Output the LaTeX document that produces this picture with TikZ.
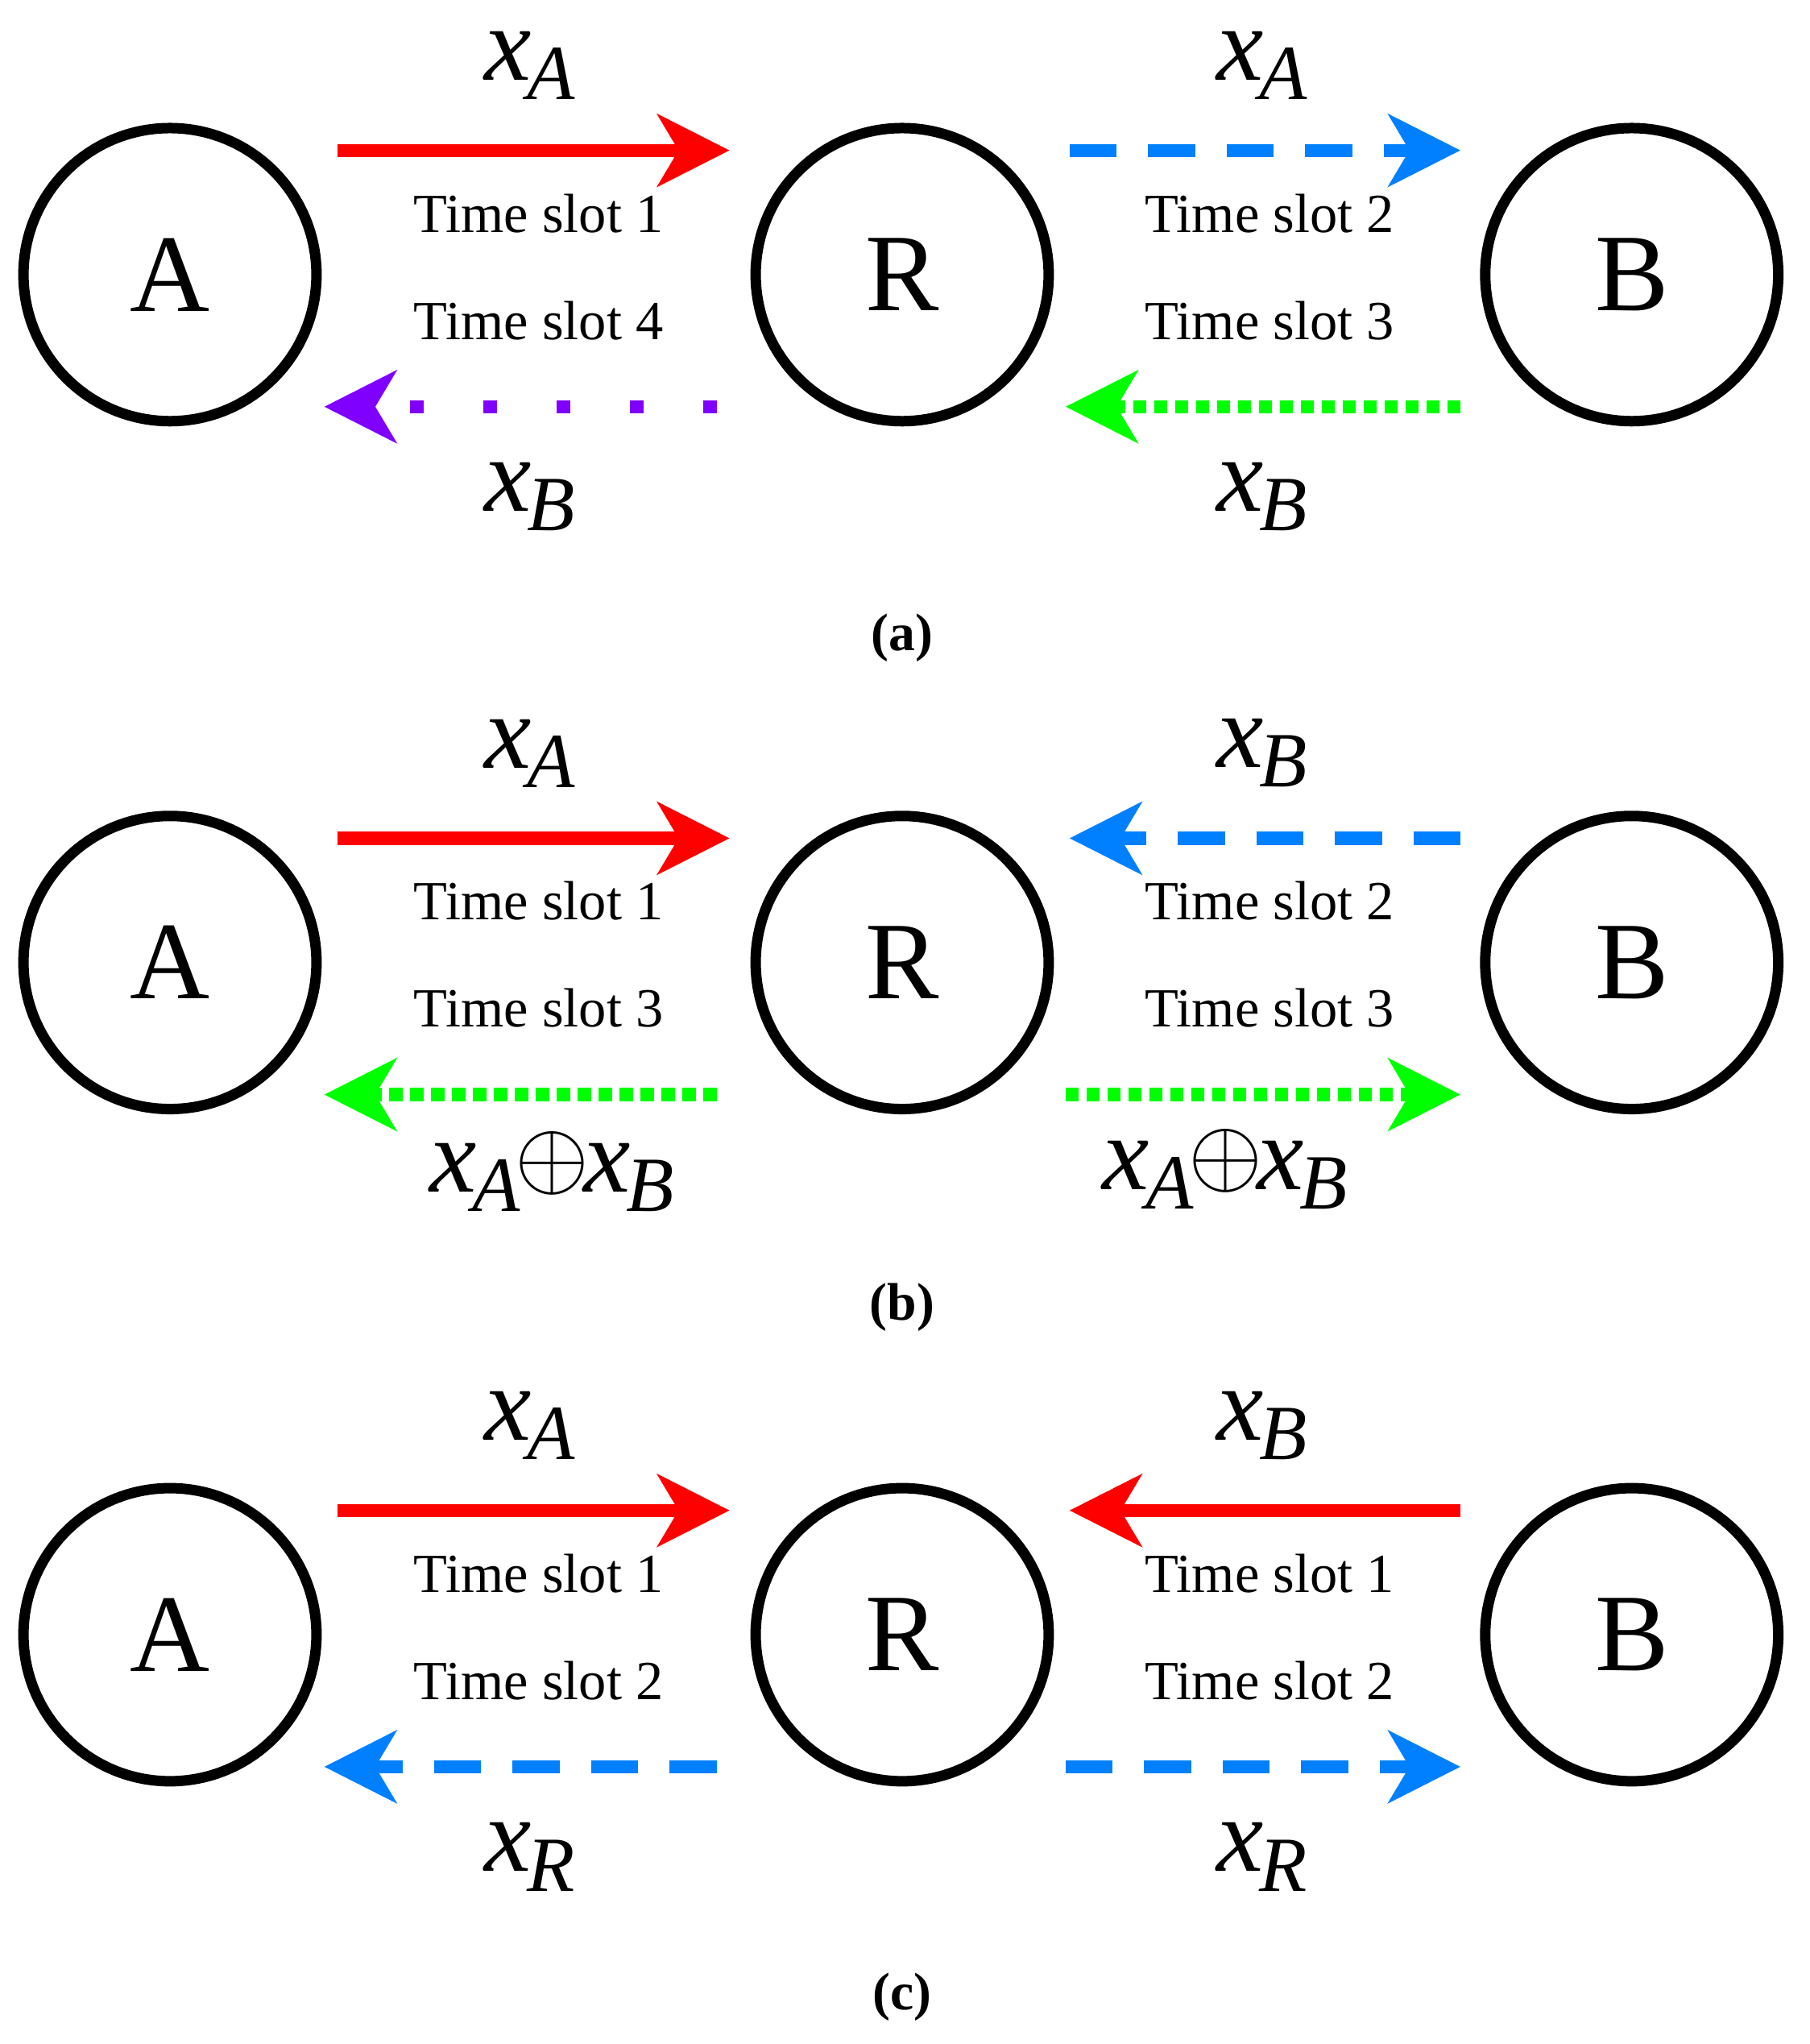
\documentclass[tikz,border=0pt]{standalone}
\usepackage{fontspec}
\setmainfont{Liberation Serif}
\usetikzlibrary{arrows.meta}
\definecolor{cred}{RGB}{255,0,0}
\definecolor{cblue}{RGB}{0,128,255}
\definecolor{cgreen}{RGB}{0,255,0}
\definecolor{cpurple}{RGB}{128,0,255}
\newcommand{\xv}[1]{\textit{x}\kern-0.04em\raisebox{-0.4ex}{\fontsize{17pt}{17pt}\selectfont\textit{#1}}}
\newcommand{\xo}{\kern-0.05em\raisebox{0.1ex}{\fontsize{20pt}{20pt}\selectfont$\oplus$}\kern-0.05em}
\begin{document}
\begin{tikzpicture}[x=0.01cm,y=-0.01cm,
  circ/.style={circle,draw,line width=0.08cm,minimum size=2.24cm,inner sep=0,font=\fontsize{24pt}{24pt}\selectfont},
  arr/.style={line width=0.1cm,-{Stealth[length=0.55cm,width=0.55cm,inset=0.16cm]}},
  sol/.style={arr},
  dsh/.style={arr,dash pattern=on 0.36cm off 0.24cm},
  dotp/.style={arr,dash pattern=on 0.1cm off 0.46cm},
  dotg/.style={arr,dash pattern=on 0.1cm off 0.06cm},
  ts/.style={font=\fontsize{12pt}{12pt}\selectfont},
  lab/.style={font=\fontsize{23pt}{23pt}\selectfont},
  capt/.style={font=\fontsize{11.5pt}{11.5pt}\selectfont\bfseries}]
\useasboundingbox (0,0) rectangle (1384,1563);
% panel a
\node[circ] (A1) at (130,210) {A};
\node[circ] (R1) at (690,210) {R};
\node[circ] (B1) at (1248,210) {B};
\coordinate (a1) at (258,115); \coordinate (a2) at (558,115);
\coordinate (a3) at (818,115); \coordinate (a4) at (1117,115);
\coordinate (a5) at (548,311); \coordinate (a6) at (248,311);
\coordinate (a7) at (1117,311); \coordinate (a8) at (815,311);
\draw[sol,cred] (a1) -- (a2);
\draw[dsh,cblue] (a3) -- (a4);
\draw[dotp,cpurple] (a5) -- (a6);
\draw[dotg,cgreen] (a7) -- (a8);
\node[lab] (la1) at (405,50) {\xv{A}};
\node[lab] (la2) at (965,50) {\xv{A}};
\node[lab] (la3) at (405,380) {\xv{B}};
\node[lab] (la4) at (965,380) {\xv{B}};
\node[ts] (ta1) at (412,163) {Time slot 1};
\node[ts] (ta2) at (412,245) {Time slot 4};
\node[ts] (ta3) at (971,163) {Time slot 2};
\node[ts] (ta4) at (971,245) {Time slot 3};
\node[capt] (ca) at (690,488) {(a)};
% panel b
\node[circ] (A2) at (130,736) {A};
\node[circ] (R2) at (690,736) {R};
\node[circ] (B2) at (1248,736) {B};
\coordinate (b1) at (258,641); \coordinate (b2) at (558,641);
\coordinate (b3) at (1117,641); \coordinate (b4) at (818,641);
\coordinate (b5) at (548,837); \coordinate (b6) at (248,837);
\coordinate (b7) at (815,837); \coordinate (b8) at (1117,837);
\draw[sol,cred] (b1) -- (b2);
\draw[dsh,cblue] (b3) -- (b4);
\draw[dotg,cgreen] (b5) -- (b6);
\draw[dotg,cgreen] (b7) -- (b8);
\node[lab] (lb1) at (405,576) {\xv{A}};
\node[lab] (lb2) at (965,576) {\xv{B}};
\node[lab] (lb3) at (422,896) {\xv{A}\xo\xv{B}};
\node[lab] (lb4) at (937,894) {\xv{A}\xo\xv{B}};
\node[ts] (tb1) at (412,689) {Time slot 1};
\node[ts] (tb2) at (412,771) {Time slot 3};
\node[ts] (tb3) at (971,689) {Time slot 2};
\node[ts] (tb4) at (971,771) {Time slot 3};
\node[capt] (cb) at (690,1000) {(b)};
% panel c
\node[circ] (A3) at (130,1250) {A};
\node[circ] (R3) at (690,1250) {R};
\node[circ] (B3) at (1248,1250) {B};
\coordinate (c1) at (258,1155); \coordinate (c2) at (558,1155);
\coordinate (c3) at (1117,1155); \coordinate (c4) at (818,1155);
\coordinate (c5) at (548,1351); \coordinate (c6) at (248,1351);
\coordinate (c7) at (815,1351); \coordinate (c8) at (1117,1351);
\draw[sol,cred] (c1) -- (c2);
\draw[sol,cred] (c3) -- (c4);
\draw[dsh,cblue] (c5) -- (c6);
\draw[dsh,cblue] (c7) -- (c8);
\node[lab] (lc1) at (405,1090) {\xv{A}};
\node[lab] (lc2) at (965,1090) {\xv{B}};
\node[lab] (lc3) at (405,1420) {\xv{R}};
\node[lab] (lc4) at (965,1420) {\xv{R}};
\node[ts] (tc1) at (412,1203) {Time slot 1};
\node[ts] (tc2) at (412,1285) {Time slot 2};
\node[ts] (tc3) at (971,1203) {Time slot 1};
\node[ts] (tc4) at (971,1285) {Time slot 2};
\node[capt] (cc) at (690,1527) {(c)};
\end{tikzpicture}
\end{document}
